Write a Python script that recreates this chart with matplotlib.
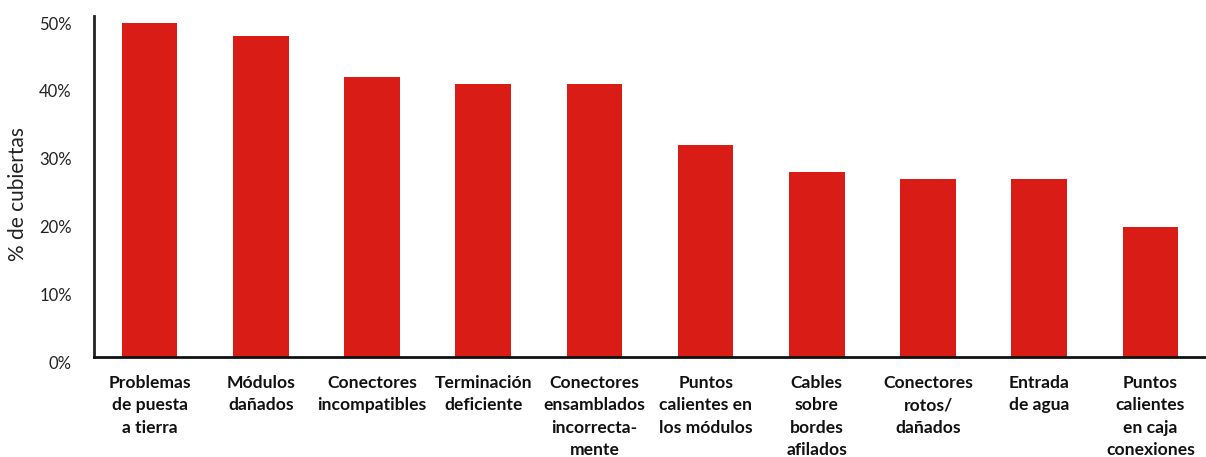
import matplotlib.pyplot as plt
from matplotlib.ticker import FuncFormatter
import matplotlib.transforms as mtransforms

# Categories and values (% of roofs)
categories = ['Problemas\nde puesta\na tierra', 'Módulos\ndañados', 'Conectores\nincompatibles',
              'Terminación\ndeficiente', 'Conectores\nensamblados\nincorrecta-\nmente',
              'Puntos\ncalientes en\nlos módulos', 'Cables\nsobre\nbordes\nafilados',
              'Conectores\nrotos/\ndañados', 'Entrada\nde agua', 'Puntos\ncalientes\nen caja\nconexiones']
values = [49.1, 47.2, 41.2, 40.1, 40.1, 31.2, 27.2, 26.2, 26.2, 19.1]
yticks = [0, 10, 20, 30, 40, 50]

fig = plt.figure(figsize=(12.06, 4.57), dpi=100)
ax = fig.add_axes([0.078, 0.219, 0.922, 0.746])

x = list(range(len(categories)))
ax.bar(x, values, width=0.5, color='#DA1C17')

ax.set_xlim(-0.5, 9.5)
ax.set_ylim(0, 50.15)
ax.set_yticks(yticks)
ax.yaxis.set_major_formatter(FuncFormatter(lambda v, p: f'{v:.0f}%'))
ax.tick_params(axis='y', length=0, pad=16, labelsize=12, labelcolor='#222222')
ax.tick_params(axis='x', length=0, pad=13)
for lbl in ax.get_yticklabels():
    lbl.set_fontfamily('Lato')

# y labels sit slightly below their gridline in the original
offset = mtransforms.ScaledTranslation(0, -6 / 100, fig.dpi_scale_trans)
for lbl in ax.get_yticklabels():
    lbl.set_transform(lbl.get_transform() + offset)

ax.set_xticks(x)
ax.set_xticklabels(categories, fontfamily='Lato', fontweight='bold', fontsize=12.6,
                   linespacing=1.5, va='top', color='#111111')

fig.text(18 / 1206, 1 - 194 / 457, '% de cubiertas', rotation=90, fontsize=15,
         fontfamily='Lato', color='#222222', ha='center', va='center')

for s in ['top', 'right']:
    ax.spines[s].set_visible(False)
ax.spines['left'].set_linewidth(2)
ax.spines['bottom'].set_linewidth(2)
ax.spines['left'].set_color('#222222')
ax.spines['bottom'].set_color('#111111')

fig.savefig('out.png', dpi=100)
